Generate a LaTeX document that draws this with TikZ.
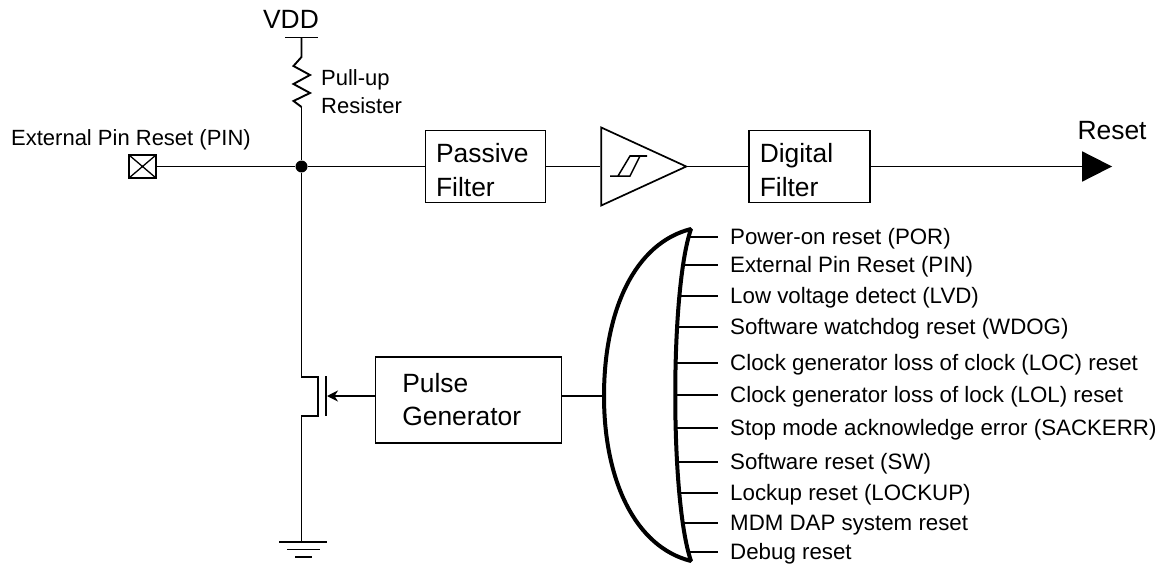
\documentclass[tikz,border=0pt]{standalone}
\usepackage{fontspec}
\setmainfont{Liberation Sans}
\usetikzlibrary{arrows.meta, positioning, shapes.geometric}

\begin{document}
\begin{tikzpicture}[
  x=1pt, y=-1pt,
  wire/.style    = {line width=1.9pt},
  arr/.style     = {-{Stealth[length=11pt,width=11pt]}, line width=1.9pt},
  outarr/.style  = {-{Triangle[length=30pt,width=30pt]}, line width=1.9pt},
  blockbox/.style= {draw, line width=1.6pt, align=left, anchor=west, inner ysep=0pt,
                    inner xsep=10.5pt, minimum height=72pt, text height=25.4pt,
                    font=\fontsize{26.4}{34}\selectfont},
  bigtext/.style = {font=\fontsize{26.4}{30}\selectfont, inner sep=0pt},
  smalltext/.style = {font=\fontsize{22}{28}\selectfont, inner sep=0pt, align=left},
  srclabel/.style  = {font=\fontsize{22.3}{26}\selectfont, anchor=west, inner ysep=0pt,
                      inner xsep=12pt, text height=15pt, text depth=0pt},
  pinbox/.style  = {draw, line width=1.8pt, minimum width=27pt, minimum height=23pt, inner sep=0pt,
                    path picture={\draw[line width=1.3pt]
                      (path picture bounding box.north west) -- (path picture bounding box.south east)
                      (path picture bounding box.north east) -- (path picture bounding box.south west);}},
  schmitt/.style = {draw, isosceles triangle, isosceles triangle stretches, line width=1.7pt,
                    minimum width=78pt, minimum height=85pt, inner sep=0pt},
  dotnode/.style = {circle, fill=black, minimum size=12pt, inner sep=0pt},
]
  \useasboundingbox (0,0) rectangle (1159,567);

  % supply and pull-up
  \node[bigtext] (vdd) at (291,19.5) {VDD};
  \coordinate (vddrail) at (301.5,37.5);
  \coordinate (resin) at (301.5,57);
  \coordinate (resout) at (301.5,107);
  \node[smalltext, anchor=north west] (pullup) at (321,69) {Pull-up\\Resister};
  \draw[wire] ([xshift=-16.5pt]vddrail) -- ([xshift=16.5pt]vddrail);
  \draw[wire] (vddrail) -- (resin) -- (293.5,66) -- (310,75) -- (293.5,84) -- (310,93) -- (293.5,101) -- (resout);

  % top row
  \node[dotnode] (junction) at (301.5,166.5) {};
  \node[pinbox] (pin) at (142.5,166.5) {};
  \node[smalltext, anchor=south] (pinlabel) at (131,150) {External Pin Reset (PIN)};
  \node[blockbox, text width=99pt] (passive) at (424.8,166.5) {Passive\\Filter};
  \node[schmitt, right=54pt of passive.east] (buffer) {};
  \node[blockbox, text width=100pt, right=60pt of buffer.apex] (digital) {Digital\\Filter};
  \coordinate[right=241pt of digital.east] (resetout);
  \node[bigtext, above=26.5pt of resetout] (reset) {Reset};
  \draw[wire] (resout) -- (junction);
  \draw[wire] (pin) -- (junction);
  \draw[wire] (junction) -- (passive);
  \draw[wire] (passive) -- (buffer.west);
  \draw[wire] (buffer.apex) -- (digital);
  \draw[outarr] (digital) -- (resetout);
  % hysteresis mark
  \draw[line width=1.5pt] (610,176) -- (630,176) -- (640,156) (618,176) -- (630,156) -- (647,156);

  % transistor and ground
  \coordinate (drain) at (301.5,377);
  \coordinate (drainb) at (318,377);
  \coordinate (sourceb) at (318,416);
  \coordinate (source) at (301.5,416);
  \coordinate (gate) at (327,396);
  \coordinate (gnd) at (301.5,542);
  \draw[wire] (junction) -- (drain) -- (drainb) -- (sourceb) -- (source) -- (gnd);
  \draw[wire] (326,376) -- (326,416);
  \draw[wire] (279,542) -- (327,542);
  \draw[wire] (287,549.5) -- (320,549.5);
  \draw[wire] (295,557) -- (312,557);

  % pulse generator
  \node[blockbox, inner xsep=27pt, text width=132pt, minimum height=86pt, text height=18.4pt,
        font=\fontsize{26.4}{33}\selectfont] (pulse) at (374.5,400) {Pulse\\Generator};
  \draw[arr] (pulse.west |- gate) -- (gate);

  % reset sources
  \foreach \y/\id/\txt in {237/por/Power-on reset (POR), 265/extpin/External Pin Reset (PIN),
      296/lvd/Low voltage detect (LVD), 327/wdog/Software watchdog reset (WDOG),
      363/loc/Clock generator loss of clock (LOC) reset, 395/lol/Clock generator loss of lock (LOL) reset,
      428/sackerr/Stop mode acknowledge error (SACKERR), 462/sw/Software reset (SW),
      493/lockup/Lockup reset (LOCKUP), 523/mdm/MDM DAP system reset, 552/debug/Debug reset} {
    \node[srclabel] (\id) at (718,\y) {\txt};
    \draw[wire] (677,\y) -- (\id.west);
  }
  \coordinate (ortop) at (691,229);
  \coordinate (orbot) at (691,561);
  \coordinate (orin) at (604,396);
  \draw[line width=4pt, fill=white, line join=bevel] (ortop) .. controls (635,243) and (604,310) .. (orin)
    .. controls (604,480) and (635,547) .. (orbot)
    .. controls (670,500) and (670,290) .. cycle;
  \draw[wire] (pulse.east |- orin) -- (orin);
\end{tikzpicture}
\end{document}
